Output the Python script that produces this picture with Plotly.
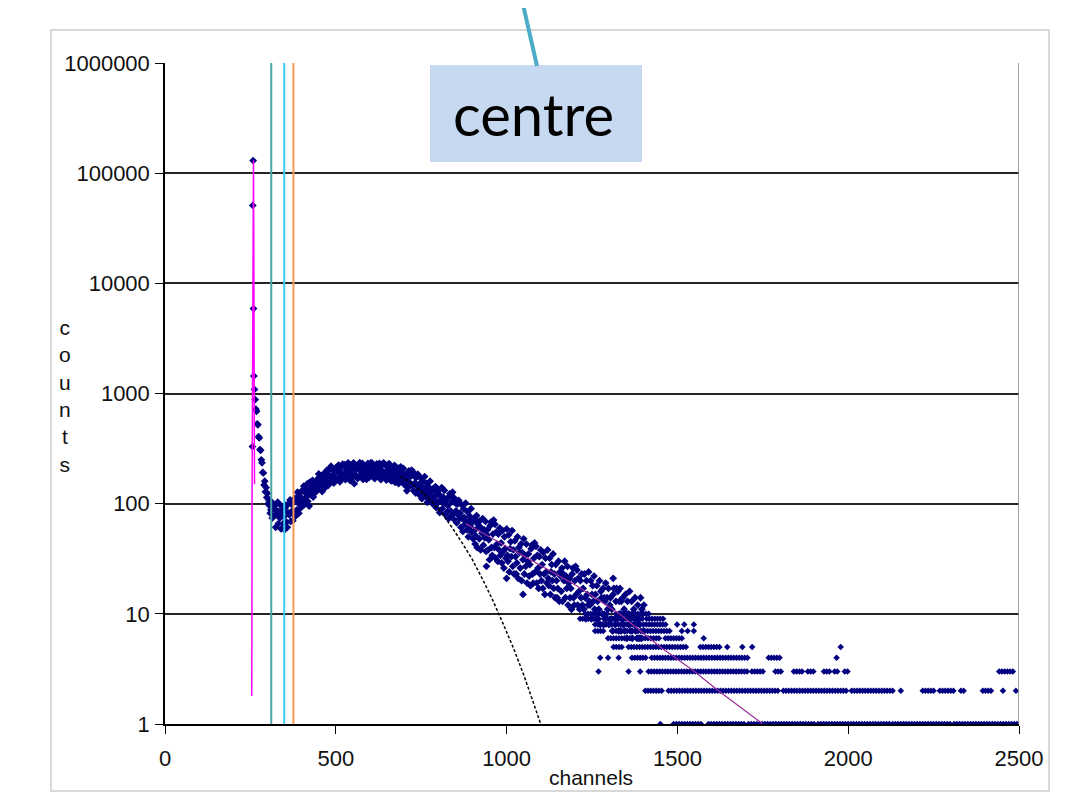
import plotly.graph_objects as go

# ---------------- data ----------------
spike_channels = [256, 257, 258, 259, 260, 262]
spike_counts = [330, 51000, 130000, 5900, 1440, 1090]

main_channels = list(range(264, 1404, 2))
main_counts = [
    880, 720, 690, 530, 520, 405, 395, 310, 305, 250,
    235, 192, 190, 148, 160, 128, 140, 114, 124, 100,
    108, 96, 82, 88, 104, 74, 93, 90, 78, 96,
    61, 87, 80, 103, 66, 85, 74, 97, 59, 78,
    87, 66, 76, 58, 92, 97, 68, 61, 83, 100,
    79, 108, 69, 99, 86, 70, 102, 82, 112, 77,
    110, 88, 127, 101, 82, 118, 103, 92, 130, 96,
    109, 144, 98, 126, 135, 115, 151, 105, 123, 95,
    157, 138, 119, 131, 163, 115, 148, 143, 126, 154,
    131, 167, 158, 186, 139, 164, 149, 180, 129, 155,
    186, 155, 170, 141, 193, 201, 158, 147, 180, 204,
    175, 219, 160, 203, 182, 154, 199, 172, 211, 163,
    201, 167, 224, 187, 158, 212, 190, 173, 228, 180,
    181, 226, 165, 202, 214, 188, 234, 175, 199, 162,
    225, 198, 171, 187, 234, 152, 213, 206, 181, 221,
    169, 215, 204, 236, 179, 211, 193, 232, 166, 200,
    219, 182, 200, 166, 226, 232, 186, 173, 211, 234,
    193, 234, 176, 223, 200, 169, 219, 189, 230, 179,
    209, 174, 232, 194, 165, 221, 198, 181, 235, 187,
    180, 225, 164, 201, 213, 187, 231, 174, 198, 161,
    214, 188, 162, 178, 222, 156, 202, 195, 171, 210,
    152, 194, 183, 216, 161, 190, 174, 209, 150, 180,
    184, 153, 168, 140, 191, 198, 156, 145, 178, 202,
    147, 194, 131, 177, 154, 125, 173, 144, 185, 134,
    150, 119, 172, 137, 111, 161, 140, 125, 176, 131,
    116, 153, 103, 133, 142, 121, 160, 111, 130, 101,
    136, 116, 97, 108, 143, 92, 127, 121, 103, 133,
    83, 118, 109, 140, 90, 115, 100, 132, 80, 106,
    110, 84, 96, 73, 116, 123, 86, 77, 104, 127,
    81, 113, 71, 101, 86, 67, 99, 79, 107, 73,
    82, 61, 98, 73, 56, 90, 75, 65, 101, 68,
    58, 84, 50, 70, 77, 62, 90, 55, 68, 48,
    73, 57, 43, 51, 78, 40, 65, 61, 48, 70,
    38, 60, 54, 73, 42, 58, 49, 69, 37, 52,
    58, 38, 47, 31, 63, 68, 40, 34, 53, 71,
    40, 65, 32, 55, 43, 30, 53, 38, 60, 34,
    44, 29, 57, 37, 26, 50, 39, 32, 59, 34,
    30, 52, 24, 39, 45, 33, 57, 27, 38, 23,
    46, 33, 23, 29, 50, 21, 40, 36, 26, 43,
    20, 36, 31, 48, 23, 34, 27, 43, 19, 30,
    35, 22, 28, 18, 39, 42, 23, 19, 32, 44,
    24, 41, 19, 34, 26, 17, 33, 23, 38, 20,
    28, 17, 36, 23, 15, 32, 24, 19, 38, 21,
    18, 32, 15, 24, 28, 20, 35, 17, 23, 14,
    28, 20, 14, 17, 30, 13, 24, 22, 16, 26,
    13, 23, 20, 30, 14, 22, 17, 27, 12, 19,
    21, 14, 17, 11, 23, 26, 14, 12, 20, 27,
    15, 25, 12, 21, 16, 11, 20, 14, 23, 12,
    17, 11, 23, 14, 9, 20, 15, 12, 24, 13,
    12, 20, 9, 15, 18, 13, 22, 11, 15, 9,
    18, 13, 9, 11, 20, 8, 16, 14, 10, 17,
    8, 14, 13, 19, 9, 14, 11, 17, 8, 12,
    14, 9, 11, 7, 15, 17, 9, 8, 13, 17,
    9, 16, 7, 13, 10, 7, 13, 9, 14, 8,
    11, 7, 15, 10, 6, 13, 10, 8, 16, 9,
    7, 13, 6, 10, 11, 8, 14, 7, 9, 6,
    12, 9, 6, 8, 14, 6, 11, 10, 7, 12,
]

extra_channels = [708, 911, 941, 1000, 1048, 1312, 1332]
extra_counts = [131, 70, 27, 21, 15, 21, 17]

# low-count tail: occupied channel runs for each integer count level
tail_levels = [1, 2, 3, 4, 5, 6, 7, 8, 9, 10]
tail_runs = [
    [(1450, 1450), (1489, 1572), (1591, 1700), (1708, 1900), (1912, 2120), (2130, 2300), (2310, 2497)],
    [(1406, 1455), (1474, 1800), (1810, 2000), (2010, 2134), (2154, 2154), (2218, 2250), (2268, 2310),
     (2330, 2344), (2394, 2418), (2453, 2453), (2491, 2491)],
    [(1269, 1269), (1357, 1357), (1391, 1391), (1416, 1708), (1718, 1753), (1787, 1806), (1841, 1870),
     (1882, 1904), (1929, 1945), (1960, 1975), (1990, 2002), (2442, 2486)],
    [(1274, 1274), (1297, 1297), (1328, 1328), (1367, 1410), (1425, 1708), (1767, 1806), (1966, 1966)],
    [(1313, 1338), (1357, 1528), (1567, 1626), (1646, 1646), (1690, 1690), (1719, 1719), (1978, 1978)],
    [(1297, 1367), (1382, 1450), (1465, 1518), (1577, 1577)],
    [(1259, 1284), (1313, 1396), (1405, 1479), (1513, 1513), (1530, 1530), (1548, 1548)],
    [(1259, 1311), (1328, 1391), (1401, 1469), (1499, 1499), (1520, 1520), (1548, 1548)],
    [(1215, 1265), (1285, 1400), (1410, 1458)],
    [(1230, 1300), (1320, 1420)],
]
tail_step = 8

pedestal_fit_x = [254, 255, 259, 262]
pedestal_fit_y = [1.8, 150, 130000, 150]

gauss_fit_x = [690, 720, 750, 780, 810, 840, 870, 900, 930, 960, 990, 1020, 1050, 1080, 1100]
gauss_fit_y = [177, 154, 130, 105, 82, 61, 44, 31, 20.5, 13.2, 8.1, 4.9, 2.8, 1.5, 1.0]

expo_fit_x = [880, 1060, 1205, 1330, 1450, 1550, 1620, 1750]
expo_fit_y = [66, 32, 18, 10, 5, 3, 2, 1]

cut_channels = [311, 349, 376]
cut_colors = ["#4aa6a8", "#3ccbf0", "#f79a55"]

y_tick_vals = [1, 10, 100, 1000, 10000, 100000, 1000000]
y_tick_text = ["1", "10", "100", "1000", "10000", "100000", "1000000"]
x_tick_vals = [0, 500, 1000, 1500, 2000, 2500]

# ---------------- figure ----------------
W, H = 1082, 810
OFF = 8  # page body margin
L, T = 157, 55
PW, PH = 854, 661
R = W - L - PW
B = H - T - PH


def px(xp):
    return (xp - OFF - L) / PW


def py(yp):
    return (T + PH - (yp - OFF)) / PH


tail_x, tail_y = [], []
for lvl, runs in zip(tail_levels, tail_runs):
    for a, b in runs:
        c = a
        while c <= b:
            tail_x.append(c)
            tail_y.append(lvl)
            c += tail_step

NAVY = "#000080"
fig = go.Figure()
for xs, ys, sz in [(spike_channels, spike_counts, 6), (main_channels, main_counts, 6),
                   (extra_channels, extra_counts, 6), (tail_x, tail_y, 5)]:
    fig.add_trace(go.Scatter(x=xs, y=ys, mode="markers",
                             marker=dict(symbol="diamond", size=sz, color=NAVY, line=dict(width=0)),
                             showlegend=False, hoverinfo="x+y"))

fig.add_trace(go.Scatter(x=pedestal_fit_x, y=pedestal_fit_y, mode="lines",
                         line=dict(color="#ff00ff", width=1.5), showlegend=False))
fig.add_trace(go.Scatter(x=gauss_fit_x, y=gauss_fit_y, mode="lines",
                         line=dict(color="black", width=1.5, dash="3px,2px"), showlegend=False))
fig.add_trace(go.Scatter(x=expo_fit_x, y=expo_fit_y, mode="lines",
                         line=dict(color="#9b2f9b", width=1.2), showlegend=False))

shapes = []
for c, col in zip(cut_channels, cut_colors):
    shapes.append(dict(type="line", xref="x", yref="paper", x0=c, x1=c, y0=0, y1=1,
                       line=dict(color=col, width=2), layer="above"))
# plot-area right border
shapes.append(dict(type="line", xref="x", yref="paper", x0=2500, x1=2500, y0=0, y1=1,
                   line=dict(color="#808080", width=1.5)))
# outer chart frame
shapes.append(dict(type="rect", xref="paper", yref="paper", x0=px(51), x1=px(1049),
                   y0=py(791), y1=py(30), line=dict(color="#d9d9d9", width=2), layer="below"))
# callout box
shapes.append(dict(type="rect", xref="paper", yref="paper", x0=px(430), x1=px(642),
                   y0=py(162), y1=py(65), fillcolor="#c6d9f0", line=dict(width=0), layer="above"))
# callout connector
shapes.append(dict(type="line", xref="paper", yref="paper", x0=px(522), x1=px(537),
                   y0=py(0), y1=py(66), line=dict(color="#4bacc6", width=4), layer="above"))

tick_font = dict(family="Arial, Liberation Sans, sans-serif", size=22, color="#111")

fig.update_layout(
    width=W, height=H,
    margin=dict(l=L, r=R, t=T, b=B),
    paper_bgcolor="white", plot_bgcolor="white",
    showlegend=False,
    shapes=shapes,
    xaxis=dict(range=[0, 2500], tickvals=x_tick_vals, showgrid=False, zeroline=False,
               showline=True, linecolor="black", linewidth=1.5,
               ticks="outside", ticklen=8, tickcolor="black", tickwidth=1.3,
               ticklabelstandoff=6, tickfont=tick_font),
    yaxis=dict(type="log", range=[0, 6], tickvals=y_tick_vals, ticktext=y_tick_text,
               showgrid=True, gridcolor="#262626", gridwidth=1.5, zeroline=False,
               showline=True, linecolor="black", linewidth=1.5,
               ticks="outside", ticklen=8, tickcolor="black", tickwidth=1.3,
               ticklabelstandoff=1, tickfont=tick_font),
    annotations=[
        dict(text="c<br>o<br>u<br>n<br>t<br>s", xref="paper", yref="paper",
             x=px(65), y=py(396), showarrow=False, xanchor="center", yanchor="middle",
             font=dict(family="Arial, Liberation Sans, sans-serif", size=21, color="#111")),
        dict(text="channels", xref="paper", yref="paper", x=px(591), y=py(778),
             showarrow=False, xanchor="center", yanchor="middle",
             font=dict(family="Arial, Liberation Sans, sans-serif", size=21, color="#111")),
        dict(text="centre", xref="paper", yref="paper", x=px(533), y=py(114),
             showarrow=False, xanchor="center", yanchor="middle",
             font=dict(family="Lato, Open Sans, sans-serif", size=58, color="black")),
    ],
)

fig.write_html("out.html")
